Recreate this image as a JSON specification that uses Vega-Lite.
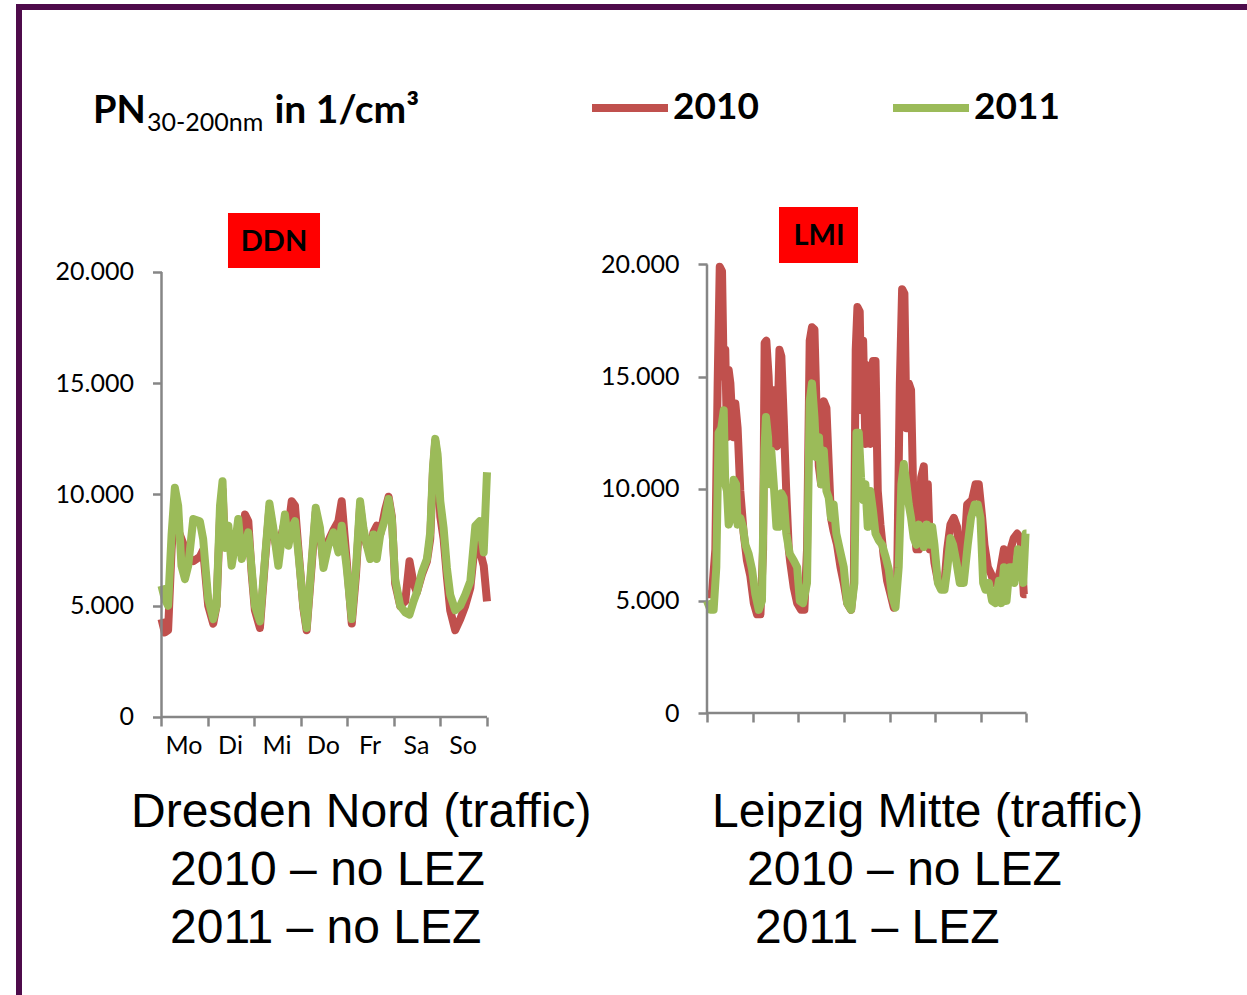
{
  "$schema": "https://vega.github.io/schema/vega-lite/v6.json",
  "width": 1247,
  "height": 995,
  "autosize": {"type": "fit", "contains": "padding"},
  "padding": {"left": 19, "top": 7, "right": -4, "bottom": -4},
  "background": "white",
  "config": {
    "view": {"stroke": "#4E0B4B", "strokeWidth": 6},
    "axis": {"grid": false, "domain": false, "tickColor": "#868686", "tickWidth": 2.5, "tickSize": 9, "labelFont": "Lato", "labelFontSize": 25, "labelColor": "#000000", "title": null, "labelFlush": false, "labelOverlap": false, "labelBound": false}
  },
  "datasets": {
    "ddn": [
      {"h":0,"v":4400,"year":"2010"},{"h":1.7,"v":3800,"year":"2010"},{"h":3.4,"v":3900,"year":"2010"},{"h":5.2,"v":7500,"year":"2010"},{"h":6.9,"v":9800,"year":"2010"},{"h":8.6,"v":8400,"year":"2010"},{"h":10.3,"v":8000,"year":"2010"},{"h":12.1,"v":7600,"year":"2010"},{"h":13.8,"v":7200,"year":"2010"},{"h":16.4,"v":7000,"year":"2010"},{"h":19.8,"v":7200,"year":"2010"},{"h":21.5,"v":7500,"year":"2010"},{"h":24.1,"v":5000,"year":"2010"},{"h":26.7,"v":4200,"year":"2010"},{"h":28.4,"v":5000,"year":"2010"},{"h":30.2,"v":9000,"year":"2010"},{"h":31.5,"v":10200,"year":"2010"},{"h":32.7,"v":7800,"year":"2010"},{"h":34.5,"v":8300,"year":"2010"},{"h":36.2,"v":7200,"year":"2010"},{"h":37.9,"v":7800,"year":"2010"},{"h":39.6,"v":8500,"year":"2010"},{"h":41.4,"v":7500,"year":"2010"},{"h":43.1,"v":9100,"year":"2010"},{"h":44.8,"v":8800,"year":"2010"},{"h":46.5,"v":6500,"year":"2010"},{"h":48.2,"v":4800,"year":"2010"},{"h":50.8,"v":4000,"year":"2010"},{"h":53.4,"v":7000,"year":"2010"},{"h":55.7,"v":9400,"year":"2010"},{"h":57.7,"v":8300,"year":"2010"},{"h":60.3,"v":7200,"year":"2010"},{"h":62.0,"v":8200,"year":"2010"},{"h":63.7,"v":8800,"year":"2010"},{"h":65.5,"v":8500,"year":"2010"},{"h":67.2,"v":9700,"year":"2010"},{"h":68.9,"v":9500,"year":"2010"},{"h":70.6,"v":7600,"year":"2010"},{"h":73.2,"v":4900,"year":"2010"},{"h":74.9,"v":3900,"year":"2010"},{"h":77.5,"v":6800,"year":"2010"},{"h":79.6,"v":9200,"year":"2010"},{"h":81.8,"v":8300,"year":"2010"},{"h":83.6,"v":6900,"year":"2010"},{"h":86.1,"v":7900,"year":"2010"},{"h":88.7,"v":8400,"year":"2010"},{"h":91.3,"v":8800,"year":"2010"},{"h":93.0,"v":9700,"year":"2010"},{"h":95.6,"v":7000,"year":"2010"},{"h":98.2,"v":4200,"year":"2010"},{"h":100.4,"v":6400,"year":"2010"},{"h":102.5,"v":9500,"year":"2010"},{"h":104.2,"v":8300,"year":"2010"},{"h":106.0,"v":7700,"year":"2010"},{"h":107.7,"v":7500,"year":"2010"},{"h":109.4,"v":8300,"year":"2010"},{"h":111.1,"v":8600,"year":"2010"},{"h":112.9,"v":8200,"year":"2010"},{"h":115.4,"v":9300,"year":"2010"},{"h":117.2,"v":9900,"year":"2010"},{"h":118.9,"v":9000,"year":"2010"},{"h":120.6,"v":6000,"year":"2010"},{"h":123.2,"v":5000,"year":"2010"},{"h":125.8,"v":5200,"year":"2010"},{"h":128.0,"v":7000,"year":"2010"},{"h":130.1,"v":6000,"year":"2010"},{"h":131.8,"v":5600,"year":"2010"},{"h":134.4,"v":6400,"year":"2010"},{"h":137.0,"v":7000,"year":"2010"},{"h":138.7,"v":8000,"year":"2010"},{"h":140.1,"v":11000,"year":"2010"},{"h":141.3,"v":12400,"year":"2010"},{"h":142.5,"v":11500,"year":"2010"},{"h":143.9,"v":9000,"year":"2010"},{"h":145.6,"v":8000,"year":"2010"},{"h":147.3,"v":6300,"year":"2010"},{"h":149.0,"v":4800,"year":"2010"},{"h":151.6,"v":3900,"year":"2010"},{"h":154.2,"v":4400,"year":"2010"},{"h":156.8,"v":5000,"year":"2010"},{"h":159.4,"v":5800,"year":"2010"},{"h":162.0,"v":8000,"year":"2010"},{"h":164.2,"v":7500,"year":"2010"},{"h":166.3,"v":6800,"year":"2010"},{"h":168,"v":5200,"year":"2010"},
      {"h":0,"v":5900,"year":"2011"},{"h":1.7,"v":5300,"year":"2011"},{"h":3.4,"v":5000,"year":"2011"},{"h":5.2,"v":8200,"year":"2011"},{"h":6.9,"v":10300,"year":"2011"},{"h":8.6,"v":9500,"year":"2011"},{"h":10.3,"v":6800,"year":"2011"},{"h":12.1,"v":6200,"year":"2011"},{"h":13.8,"v":6800,"year":"2011"},{"h":16.4,"v":8900,"year":"2011"},{"h":19.8,"v":8800,"year":"2011"},{"h":21.5,"v":8000,"year":"2011"},{"h":24.1,"v":5300,"year":"2011"},{"h":26.7,"v":4400,"year":"2011"},{"h":28.4,"v":5000,"year":"2011"},{"h":30.2,"v":9500,"year":"2011"},{"h":31.5,"v":10600,"year":"2011"},{"h":32.7,"v":7600,"year":"2011"},{"h":34.5,"v":8600,"year":"2011"},{"h":36.2,"v":6800,"year":"2011"},{"h":37.9,"v":7700,"year":"2011"},{"h":39.6,"v":8900,"year":"2011"},{"h":41.4,"v":7100,"year":"2011"},{"h":43.1,"v":7700,"year":"2011"},{"h":44.8,"v":8300,"year":"2011"},{"h":46.5,"v":6700,"year":"2011"},{"h":48.2,"v":5000,"year":"2011"},{"h":50.8,"v":4300,"year":"2011"},{"h":53.4,"v":7100,"year":"2011"},{"h":55.7,"v":9600,"year":"2011"},{"h":57.7,"v":8500,"year":"2011"},{"h":60.3,"v":6800,"year":"2011"},{"h":62.0,"v":8000,"year":"2011"},{"h":63.7,"v":9100,"year":"2011"},{"h":65.5,"v":7700,"year":"2011"},{"h":67.2,"v":8500,"year":"2011"},{"h":68.9,"v":8800,"year":"2011"},{"h":70.6,"v":7400,"year":"2011"},{"h":73.2,"v":5000,"year":"2011"},{"h":74.9,"v":4000,"year":"2011"},{"h":77.5,"v":7000,"year":"2011"},{"h":79.6,"v":9400,"year":"2011"},{"h":81.8,"v":8500,"year":"2011"},{"h":83.6,"v":6700,"year":"2011"},{"h":86.1,"v":7700,"year":"2011"},{"h":88.7,"v":8300,"year":"2011"},{"h":91.3,"v":7400,"year":"2011"},{"h":93.0,"v":8600,"year":"2011"},{"h":95.6,"v":6700,"year":"2011"},{"h":98.2,"v":4400,"year":"2011"},{"h":100.4,"v":6700,"year":"2011"},{"h":102.5,"v":9700,"year":"2011"},{"h":104.2,"v":8500,"year":"2011"},{"h":106.0,"v":7700,"year":"2011"},{"h":107.7,"v":7100,"year":"2011"},{"h":109.4,"v":8200,"year":"2011"},{"h":111.1,"v":7100,"year":"2011"},{"h":112.9,"v":8200,"year":"2011"},{"h":115.4,"v":8900,"year":"2011"},{"h":117.2,"v":9800,"year":"2011"},{"h":118.9,"v":8900,"year":"2011"},{"h":120.6,"v":6200,"year":"2011"},{"h":123.2,"v":5000,"year":"2011"},{"h":125.8,"v":4700,"year":"2011"},{"h":128.0,"v":4600,"year":"2011"},{"h":130.1,"v":5200,"year":"2011"},{"h":131.8,"v":5600,"year":"2011"},{"h":134.4,"v":6500,"year":"2011"},{"h":137.0,"v":7100,"year":"2011"},{"h":138.7,"v":8300,"year":"2011"},{"h":140.1,"v":11200,"year":"2011"},{"h":141.3,"v":12500,"year":"2011"},{"h":142.5,"v":11800,"year":"2011"},{"h":143.9,"v":9700,"year":"2011"},{"h":145.6,"v":8500,"year":"2011"},{"h":147.3,"v":6700,"year":"2011"},{"h":149.0,"v":5500,"year":"2011"},{"h":151.6,"v":4800,"year":"2011"},{"h":154.2,"v":5000,"year":"2011"},{"h":156.8,"v":5500,"year":"2011"},{"h":159.4,"v":6100,"year":"2011"},{"h":162.0,"v":8600,"year":"2011"},{"h":164.2,"v":8800,"year":"2011"},{"h":166.3,"v":7400,"year":"2011"},{"h":168,"v":11000,"year":"2011"}
    ],
    "lmi": [
      {"h":0,"v":5300,"year":"2010"},{"h":2.6,"v":5300,"year":"2010"},{"h":4.4,"v":7300,"year":"2010"},{"h":5.6,"v":14700,"year":"2010"},{"h":6.7,"v":19900,"year":"2010"},{"h":7.9,"v":19700,"year":"2010"},{"h":8.8,"v":15000,"year":"2010"},{"h":9.6,"v":16200,"year":"2010"},{"h":10.5,"v":12300,"year":"2010"},{"h":11.4,"v":15300,"year":"2010"},{"h":12.3,"v":14700,"year":"2010"},{"h":13.7,"v":12300,"year":"2010"},{"h":14.9,"v":13800,"year":"2010"},{"h":16.1,"v":12700,"year":"2010"},{"h":17.5,"v":9900,"year":"2010"},{"h":19.3,"v":8000,"year":"2010"},{"h":21.0,"v":6800,"year":"2010"},{"h":22.8,"v":6100,"year":"2010"},{"h":24.6,"v":4900,"year":"2010"},{"h":26.3,"v":4400,"year":"2010"},{"h":28.1,"v":4400,"year":"2010"},{"h":29.5,"v":7300,"year":"2010"},{"h":30.3,"v":16500,"year":"2010"},{"h":31.2,"v":16600,"year":"2010"},{"h":32.4,"v":15000,"year":"2010"},{"h":33.3,"v":12900,"year":"2010"},{"h":34.5,"v":14400,"year":"2010"},{"h":35.6,"v":12000,"year":"2010"},{"h":36.8,"v":11900,"year":"2010"},{"h":38.1,"v":16200,"year":"2010"},{"h":39.1,"v":15900,"year":"2010"},{"h":40.3,"v":13200,"year":"2010"},{"h":41.7,"v":9800,"year":"2010"},{"h":43.0,"v":7300,"year":"2010"},{"h":43.8,"v":6700,"year":"2010"},{"h":45.6,"v":5600,"year":"2010"},{"h":47.4,"v":4900,"year":"2010"},{"h":49.5,"v":4600,"year":"2010"},{"h":51.2,"v":4600,"year":"2010"},{"h":52.6,"v":7300,"year":"2010"},{"h":54.0,"v":16600,"year":"2010"},{"h":55.2,"v":17200,"year":"2010"},{"h":56.5,"v":17100,"year":"2010"},{"h":57.5,"v":13900,"year":"2010"},{"h":58.8,"v":11000,"year":"2010"},{"h":60.0,"v":10200,"year":"2010"},{"h":61.4,"v":13900,"year":"2010"},{"h":62.8,"v":13600,"year":"2010"},{"h":64.0,"v":11100,"year":"2010"},{"h":65.2,"v":8700,"year":"2010"},{"h":66.6,"v":8100,"year":"2010"},{"h":68.4,"v":7500,"year":"2010"},{"h":70.2,"v":6500,"year":"2010"},{"h":71.9,"v":5800,"year":"2010"},{"h":73.7,"v":4900,"year":"2010"},{"h":75.8,"v":4600,"year":"2010"},{"h":77.2,"v":5800,"year":"2010"},{"h":78.2,"v":16200,"year":"2010"},{"h":79.1,"v":18100,"year":"2010"},{"h":80.3,"v":17900,"year":"2010"},{"h":81.2,"v":13500,"year":"2010"},{"h":82.1,"v":16600,"year":"2010"},{"h":83.3,"v":12000,"year":"2010"},{"h":84.5,"v":15500,"year":"2010"},{"h":85.9,"v":12000,"year":"2010"},{"h":87.3,"v":15700,"year":"2010"},{"h":88.6,"v":15700,"year":"2010"},{"h":89.8,"v":9900,"year":"2010"},{"h":91.2,"v":8400,"year":"2010"},{"h":92.9,"v":7000,"year":"2010"},{"h":94.7,"v":5900,"year":"2010"},{"h":96.5,"v":5300,"year":"2010"},{"h":98.2,"v":4700,"year":"2010"},{"h":100.0,"v":6100,"year":"2010"},{"h":101.4,"v":14700,"year":"2010"},{"h":102.6,"v":18900,"year":"2010"},{"h":103.8,"v":18700,"year":"2010"},{"h":104.9,"v":12700,"year":"2010"},{"h":106.1,"v":14700,"year":"2010"},{"h":107.3,"v":14400,"year":"2010"},{"h":108.7,"v":8700,"year":"2010"},{"h":110.1,"v":7300,"year":"2010"},{"h":111.4,"v":7300,"year":"2010"},{"h":112.6,"v":10500,"year":"2010"},{"h":114.0,"v":11000,"year":"2010"},{"h":115.0,"v":8700,"year":"2010"},{"h":116.1,"v":10200,"year":"2010"},{"h":117.2,"v":7300,"year":"2010"},{"h":118.4,"v":7700,"year":"2010"},{"h":119.6,"v":6700,"year":"2010"},{"h":121.4,"v":5900,"year":"2010"},{"h":123.1,"v":5900,"year":"2010"},{"h":124.9,"v":5800,"year":"2010"},{"h":126.3,"v":7300,"year":"2010"},{"h":128.0,"v":8400,"year":"2010"},{"h":129.8,"v":8700,"year":"2010"},{"h":131.5,"v":8300,"year":"2010"},{"h":133.3,"v":6400,"year":"2010"},{"h":135.0,"v":6800,"year":"2010"},{"h":136.8,"v":9300,"year":"2010"},{"h":139.4,"v":9500,"year":"2010"},{"h":141.2,"v":10200,"year":"2010"},{"h":142.9,"v":10200,"year":"2010"},{"h":144.7,"v":8700,"year":"2010"},{"h":145.9,"v":7500,"year":"2010"},{"h":147.7,"v":6500,"year":"2010"},{"h":149.4,"v":6200,"year":"2010"},{"h":150.8,"v":5800,"year":"2010"},{"h":152.6,"v":5800,"year":"2010"},{"h":154.3,"v":6400,"year":"2010"},{"h":156.1,"v":7300,"year":"2010"},{"h":157.8,"v":5800,"year":"2010"},{"h":159.6,"v":7300,"year":"2010"},{"h":161.3,"v":7800,"year":"2010"},{"h":163.1,"v":8000,"year":"2010"},{"h":164.9,"v":7800,"year":"2010"},{"h":166.6,"v":5300,"year":"2010"},{"h":168,"v":5300,"year":"2010"},
      {"h":0,"v":5000,"year":"2011"},{"h":1.8,"v":4600,"year":"2011"},{"h":3.5,"v":4600,"year":"2011"},{"h":4.9,"v":6500,"year":"2011"},{"h":6.1,"v":12500,"year":"2011"},{"h":7.5,"v":12700,"year":"2011"},{"h":8.8,"v":13500,"year":"2011"},{"h":9.6,"v":10200,"year":"2011"},{"h":10.5,"v":9900,"year":"2011"},{"h":11.4,"v":8400,"year":"2011"},{"h":12.6,"v":8700,"year":"2011"},{"h":14.0,"v":10400,"year":"2011"},{"h":15.3,"v":10200,"year":"2011"},{"h":16.1,"v":8400,"year":"2011"},{"h":17.5,"v":8700,"year":"2011"},{"h":18.9,"v":8300,"year":"2011"},{"h":20.2,"v":7500,"year":"2011"},{"h":21.9,"v":7100,"year":"2011"},{"h":23.7,"v":6400,"year":"2011"},{"h":25.4,"v":5300,"year":"2011"},{"h":27.2,"v":4600,"year":"2011"},{"h":28.9,"v":5000,"year":"2011"},{"h":30.2,"v":11700,"year":"2011"},{"h":31.0,"v":13200,"year":"2011"},{"h":32.1,"v":12300,"year":"2011"},{"h":33.0,"v":10200,"year":"2011"},{"h":33.8,"v":11700,"year":"2011"},{"h":35.1,"v":10200,"year":"2011"},{"h":36.5,"v":8300,"year":"2011"},{"h":37.7,"v":8300,"year":"2011"},{"h":39.1,"v":9800,"year":"2011"},{"h":40.3,"v":9600,"year":"2011"},{"h":41.7,"v":8000,"year":"2011"},{"h":43.5,"v":7100,"year":"2011"},{"h":45.6,"v":6800,"year":"2011"},{"h":47.4,"v":6500,"year":"2011"},{"h":48.8,"v":5000,"year":"2011"},{"h":50.5,"v":4900,"year":"2011"},{"h":52.6,"v":5800,"year":"2011"},{"h":54.0,"v":13900,"year":"2011"},{"h":55.2,"v":14700,"year":"2011"},{"h":56.5,"v":13200,"year":"2011"},{"h":57.5,"v":11400,"year":"2011"},{"h":58.9,"v":12300,"year":"2011"},{"h":60.0,"v":10200,"year":"2011"},{"h":61.4,"v":11700,"year":"2011"},{"h":62.8,"v":9900,"year":"2011"},{"h":64.0,"v":9600,"year":"2011"},{"h":65.2,"v":8700,"year":"2011"},{"h":66.6,"v":9300,"year":"2011"},{"h":68.0,"v":8000,"year":"2011"},{"h":69.8,"v":7300,"year":"2011"},{"h":71.9,"v":6500,"year":"2011"},{"h":73.7,"v":4900,"year":"2011"},{"h":75.8,"v":4600,"year":"2011"},{"h":77.5,"v":5800,"year":"2011"},{"h":78.6,"v":12500,"year":"2011"},{"h":79.8,"v":12500,"year":"2011"},{"h":81.0,"v":10500,"year":"2011"},{"h":82.1,"v":9500,"year":"2011"},{"h":83.3,"v":10200,"year":"2011"},{"h":84.5,"v":8300,"year":"2011"},{"h":85.9,"v":9900,"year":"2011"},{"h":87.3,"v":9000,"year":"2011"},{"h":88.6,"v":8000,"year":"2011"},{"h":90.3,"v":7700,"year":"2011"},{"h":92.1,"v":7500,"year":"2011"},{"h":93.8,"v":7000,"year":"2011"},{"h":95.6,"v":6400,"year":"2011"},{"h":97.3,"v":5200,"year":"2011"},{"h":99.1,"v":4700,"year":"2011"},{"h":100.8,"v":6500,"year":"2011"},{"h":102.2,"v":10200,"year":"2011"},{"h":103.5,"v":11100,"year":"2011"},{"h":104.9,"v":10200,"year":"2011"},{"h":106.1,"v":9300,"year":"2011"},{"h":107.3,"v":8700,"year":"2011"},{"h":108.7,"v":7800,"year":"2011"},{"h":110.1,"v":7500,"year":"2011"},{"h":111.4,"v":8400,"year":"2011"},{"h":112.6,"v":8300,"year":"2011"},{"h":114.0,"v":7400,"year":"2011"},{"h":115.7,"v":8400,"year":"2011"},{"h":117.2,"v":7500,"year":"2011"},{"h":118.4,"v":8300,"year":"2011"},{"h":119.6,"v":7500,"year":"2011"},{"h":121.4,"v":5800,"year":"2011"},{"h":123.1,"v":5500,"year":"2011"},{"h":124.9,"v":5500,"year":"2011"},{"h":126.3,"v":6400,"year":"2011"},{"h":128.0,"v":7800,"year":"2011"},{"h":129.4,"v":7500,"year":"2011"},{"h":131.2,"v":6700,"year":"2011"},{"h":132.9,"v":5800,"year":"2011"},{"h":135.0,"v":5800,"year":"2011"},{"h":137.1,"v":7500,"year":"2011"},{"h":138.8,"v":8700,"year":"2011"},{"h":140.7,"v":9300,"year":"2011"},{"h":142.4,"v":9300,"year":"2011"},{"h":143.8,"v":8700,"year":"2011"},{"h":145.2,"v":5800,"year":"2011"},{"h":146.4,"v":5500,"year":"2011"},{"h":148.2,"v":5800,"year":"2011"},{"h":149.9,"v":5000,"year":"2011"},{"h":151.7,"v":4900,"year":"2011"},{"h":153.5,"v":5900,"year":"2011"},{"h":154.7,"v":4900,"year":"2011"},{"h":156.1,"v":6500,"year":"2011"},{"h":157.5,"v":5000,"year":"2011"},{"h":159.1,"v":6500,"year":"2011"},{"h":160.5,"v":6500,"year":"2011"},{"h":161.7,"v":5800,"year":"2011"},{"h":163.5,"v":7300,"year":"2011"},{"h":164.9,"v":6400,"year":"2011"},{"h":166.3,"v":5800,"year":"2011"},{"h":167.5,"v":8000,"year":"2011"},{"h":168,"v":8000,"year":"2011"}
    ]
  },
  "layer": [
    {
      "layer": [
        {
          "data": {"name": "ddn"},
          "mark": {"type": "line", "strokeWidth": 8, "strokeJoin": "round"},
          "encoding": {
            "x": {"field": "h", "type": "quantitative", "scale": {"domain": [-73.548, 562.323], "nice": false, "zero": false},
                  "axis": {"orient": "bottom", "offset": -282, "values": [0,24,48,72,96,120,144,168], "labelExpr": "['Mo','Di','Mi','Do','Fr','Sa','So',''][datum.value/24]", "labelOffset": 22, "labelPadding": 7, "title": null}},
            "y": {"field": "v", "type": "quantitative", "scale": {"domain": [-12674.2, 31910.1], "nice": false, "zero": false},
                  "axis": {"orient": "left", "offset": -142.5, "values": [0,5000,10000,15000,20000], "labelExpr": "replace(format(datum.value, ','), ',', '.')", "labelPadding": 19, "title": null}},
            "color": {"field": "year", "type": "nominal", "scale": {"domain": ["2010","2011"], "range": ["#C0504D","#9BBB59"]},
                      "legend": {"orient": "none", "legendX": 569, "legendY": 59, "direction": "horizontal", "title": null, "symbolType": "stroke", "symbolSize": 5776, "symbolStrokeWidth": 8, "labelFont": "Lato", "labelFontWeight": "bold", "labelFontSize": 37, "labelColor": "#000000", "columnPadding": 118, "labelOffset": 1, "padding": 0, "labelLimit": 300}}
          }
        },
        {
          "data": {"values": [{"axis": "y"}]},
          "mark": {"type": "rule", "color": "#868686", "strokeWidth": 2.5},
          "encoding": {"x": {"datum": 0}, "y": {"datum": 0}, "y2": {"datum": 20000}}
        },
        {
          "data": {"values": [{"axis": "x"}]},
          "mark": {"type": "rule", "color": "#868686", "strokeWidth": 2.5},
          "encoding": {"x": {"datum": 0}, "x2": {"datum": 168}, "y": {"datum": 0}}
        },
        {
          "data": {"values": [{"station": "DDN"}]},
          "mark": {"type": "rect", "color": "#FF0000"},
          "encoding": {"x": {"datum": 34.32}, "x2": {"datum": 81.81}, "y": {"datum": 20179.8}, "y2": {"datum": 22651.7}}
        },
        {
          "data": {"values": [{"station": "DDN"}]},
          "mark": {"type": "text", "font": "Lato", "fontWeight": "bold", "fontSize": 29, "color": "#000000", "align": "center", "baseline": "middle"},
          "encoding": {"x": {"datum": 58.07}, "y": {"datum": 21348}, "text": {"field": "station"}}
        },
        {
          "data": {"values": [{"part": "PN"}]},
          "mark": {"type": "text", "font": "Lato", "fontWeight": "bold", "fontSize": 38, "color": "#000000", "align": "left", "baseline": "alphabetic"},
          "encoding": {"x": {"datum": -35.35}, "y": {"datum": 26696.6}, "text": {"field": "part"}}
        },
        {
          "data": {"values": [{"part": "30-200nm"}]},
          "mark": {"type": "text", "font": "Lato", "fontSize": 25, "color": "#000000", "align": "left", "baseline": "alphabetic"},
          "encoding": {"x": {"datum": -7.5}, "y": {"datum": 26337}, "text": {"field": "part"}}
        },
        {
          "data": {"values": [{"part": "in 1/cm³"}]},
          "mark": {"type": "text", "font": "Lato", "fontWeight": "bold", "fontSize": 39, "color": "#000000", "align": "left", "baseline": "alphabetic"},
          "encoding": {"x": {"datum": 58.3}, "y": {"datum": 26696.6}, "text": {"field": "part"}}
        },
        {
          "data": {"values": [{"caption": "Dresden Nord (traffic)"}]},
          "mark": {"type": "text", "font": "Liberation Sans", "fontSize": 48, "color": "#000000", "align": "left", "baseline": "alphabetic"},
          "encoding": {"x": {"datum": -15.74}, "y": {"datum": -4943.8}, "text": {"field": "caption"}}
        },
        {
          "data": {"values": [{"caption": "2010 \u2013 no LEZ"}]},
          "mark": {"type": "text", "font": "Liberation Sans", "fontSize": 48, "color": "#000000", "align": "left", "baseline": "alphabetic"},
          "encoding": {"x": {"datum": 4.39}, "y": {"datum": -7550.6}, "text": {"field": "caption"}}
        },
        {
          "data": {"values": [{"caption": "2011 \u2013 no LEZ"}]},
          "mark": {"type": "text", "font": "Liberation Sans", "fontSize": 48, "color": "#000000", "align": "left", "baseline": "alphabetic"},
          "encoding": {"x": {"datum": 4.39}, "y": {"datum": -10157.3}, "text": {"field": "caption"}}
        }
      ]
    },
    {
      "layer": [
        {
          "data": {"name": "lmi"},
          "mark": {"type": "line", "strokeWidth": 8, "strokeJoin": "round"},
          "encoding": {
            "x": {"field": "h", "type": "quantitative", "scale": {"domain": [-361.765, 286.047], "nice": false, "zero": false},
                  "axis": {"orient": "bottom", "offset": -286, "values": [0,24,48,72,96,120,144,168], "labels": false, "title": null}},
            "y": {"field": "v", "type": "quantitative", "scale": {"domain": [-12753.6, 31482.7], "nice": false, "zero": false},
                  "axis": {"orient": "left", "offset": -688, "values": [0,5000,10000,15000,20000], "labelExpr": "replace(format(datum.value, ','), ',', '.')", "labelPadding": 19, "title": null}},
            "color": {"field": "year", "type": "nominal", "scale": {"domain": ["2010","2011"], "range": ["#C0504D","#9BBB59"]}, "legend": null}
          }
        },
        {
          "data": {"values": [{"axis": "y"}]},
          "mark": {"type": "rule", "color": "#868686", "strokeWidth": 2.5},
          "encoding": {"x": {"datum": 0}, "y": {"datum": 0}, "y2": {"datum": 20000}}
        },
        {
          "data": {"values": [{"axis": "x"}]},
          "mark": {"type": "rule", "color": "#868686", "strokeWidth": 2.5},
          "encoding": {"x": {"datum": 0}, "x2": {"datum": 168}, "y": {"datum": 0}}
        },
        {
          "data": {"values": [{"station": "LMI"}]},
          "mark": {"type": "rect", "color": "#FF0000"},
          "encoding": {"x": {"datum": 37.86}, "x2": {"datum": 79.40}, "y": {"datum": 20066.9}, "y2": {"datum": 22564.1}}
        },
        {
          "data": {"values": [{"station": "LMI"}]},
          "mark": {"type": "text", "font": "Lato", "fontWeight": "bold", "fontSize": 29, "color": "#000000", "align": "center", "baseline": "middle"},
          "encoding": {"x": {"datum": 58.89}, "y": {"datum": 21270.9}, "text": {"field": "station"}}
        },
        {
          "data": {"values": [{"caption": "Leipzig Mitte (traffic)"}]},
          "mark": {"type": "text", "font": "Liberation Sans", "fontSize": 48, "color": "#000000", "align": "left", "baseline": "alphabetic"},
          "encoding": {"x": {"datum": 2.63}, "y": {"datum": -5083.6}, "text": {"field": "caption"}}
        },
        {
          "data": {"values": [{"caption": "2010 \u2013 no LEZ"}]},
          "mark": {"type": "text", "font": "Liberation Sans", "fontSize": 48, "color": "#000000", "align": "left", "baseline": "alphabetic"},
          "encoding": {"x": {"datum": 21.03}, "y": {"datum": -7670.0}, "text": {"field": "caption"}}
        },
        {
          "data": {"values": [{"caption": "2011 \u2013 LEZ"}]},
          "mark": {"type": "text", "font": "Liberation Sans", "fontSize": 48, "color": "#000000", "align": "left", "baseline": "alphabetic"},
          "encoding": {"x": {"datum": 25.24}, "y": {"datum": -10256.4}, "text": {"field": "caption"}}
        }
      ]
    }
  ],
  "resolve": {"scale": {"x": "independent", "y": "independent"}, "axis": {"x": "independent", "y": "independent"}}
}
